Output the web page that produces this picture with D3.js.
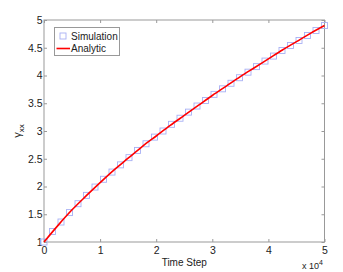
<!DOCTYPE html>
<html><head><meta charset="utf-8">
<script src="https://cdn.jsdelivr.net/npm/d3@7/dist/d3.min.js"></script>
<style>body{margin:0;background:#fff;} text{font-family:"Liberation Sans",Arial,sans-serif;}</style>
</head><body>
<svg id="c" width="343" height="272"></svg>
<script>
// Time steps (simulation samples)
const simSteps = [0,1515,3030,4545,6061,7576,9091,10606,12121,13636,15152,16667,18182,19697,21212,22727,24242,25758,27273,28788,30303,31818,33333,34848,36364,37879,39394,40909,42424,43939,45455,46970,48485,50000];
const simValues = [1.00,1.19,1.36,1.53,1.69,1.84,1.99,2.13,2.26,2.39,2.52,2.65,2.77,2.89,3.00,3.12,3.23,3.34,3.45,3.55,3.66,3.76,3.86,3.96,4.06,4.16,4.26,4.35,4.45,4.54,4.63,4.72,4.81,4.90];
const analyticSteps = [0,2500,5000,7500,10000,12500,15000,17500,20000,22500,25000,27500,30000,32500,35000,37500,40000,42500,45000,47500,50000];
const analyticValues = [1.00,1.30,1.58,1.83,2.07,2.30,2.51,2.72,2.91,3.10,3.28,3.46,3.64,3.81,3.98,4.14,4.30,4.46,4.61,4.76,4.90];
const xTicks = [0,10000,20000,30000,40000,50000];
const xTickLabels = ["0","1","2","3","4","5"];
const yTicks = [1,1.5,2,2.5,3,3.5,4,4.5,5];
const legendLabels = ["Simulation","Analytic"];

const svg = d3.select("#c");
const L=44, R=324.5, T=20, B=242;
const x = d3.scaleLinear().domain([0,50000]).range([L,R]);
const y = d3.scaleLinear().domain([1,5]).range([B,T]);
const frame="#999", txt="#222";

svg.append("rect").attr("x",L).attr("y",T).attr("width",R-L).attr("height",B-T)
  .attr("fill","none").attr("stroke",frame).attr("stroke-width",1);

const xb = svg.append("g").attr("transform",`translate(0,${B})`)
  .call(d3.axisBottom(x).tickValues(xTicks).tickFormat((d,i)=>xTickLabels[i]).tickSizeInner(-3).tickSizeOuter(0).tickPadding(5));
const xt = svg.append("g").attr("transform",`translate(0,${T})`)
  .call(d3.axisTop(x).tickValues(xTicks).tickFormat("").tickSizeInner(-3).tickSizeOuter(0));
const yl = svg.append("g").attr("transform",`translate(${L},0)`)
  .call(d3.axisLeft(y).tickValues(yTicks).tickFormat(d3.format("")).tickSizeInner(-3).tickSizeOuter(0).tickPadding(5));
const yr = svg.append("g").attr("transform",`translate(${R},0)`)
  .call(d3.axisRight(y).tickValues(yTicks).tickFormat("").tickSizeInner(-3).tickSizeOuter(0));
[xb,xt,yl,yr].forEach(g=>{
  g.select(".domain").remove();
  g.selectAll(".tick line").attr("stroke",frame);
  g.selectAll(".tick text").attr("fill",txt).style("font-size","10.5px").style("font-family",'"Liberation Sans",Arial,sans-serif');
});
yl.selectAll(".tick text").attr("x",-1.5);

svg.append("g").selectAll("rect").data(simSteps).enter().append("rect")
  .attr("x",(d)=>x(d)-3).attr("y",(d,i)=>y(simValues[i])-3).attr("width",6).attr("height",6)
  .attr("fill","none").attr("stroke","#a8b0f4").attr("stroke-width",0.9);

const line = d3.line().x(d=>x(d[0])).y(d=>y(d[1])).curve(d3.curveMonotoneX);
svg.append("path").datum(analyticSteps.map((s,i)=>[s,analyticValues[i]]))
  .attr("d",line).attr("fill","none").attr("stroke","#ff0000").attr("stroke-width",1.6);

svg.append("text").attr("x",(L+R)/2).attr("y",266).attr("text-anchor","middle")
  .attr("fill",txt).style("font-size","10px").text("Time Step");
const ex = svg.append("text").attr("x",302).attr("y",269).attr("fill",txt).style("font-size","9px");
ex.append("tspan").text("x 10");
ex.append("tspan").attr("dy",-4).style("font-size","7px").text("4");

const yLab = svg.append("text").attr("transform","translate(21,131) rotate(-90)").attr("text-anchor","middle")
  .attr("fill",txt).style("font-size","11px");
yLab.append("tspan").text("γ");
yLab.append("tspan").attr("dy",3).style("font-size","8px").text("xx");

const lg = svg.append("g");
lg.append("rect").attr("x",54.5).attr("y",27.5).attr("width",65).attr("height",28)
  .attr("fill","#fff").attr("stroke",frame).attr("stroke-width",1);
lg.append("rect").attr("x",60).attr("y",33).attr("width",6).attr("height",6)
  .attr("fill","none").attr("stroke","#a8b0f4").attr("stroke-width",0.9);
lg.append("line").attr("x1",56.5).attr("x2",70).attr("y1",48.5).attr("y2",48.5)
  .attr("stroke","#ff0000").attr("stroke-width",1.6);
lg.selectAll("text.l").data(legendLabels).enter().append("text").attr("class","l")
  .attr("x",71).attr("y",(d,i)=>39.5+i*12.5).attr("fill",txt).style("font-size","10px").text(d=>d);
</script>
</body></html>
